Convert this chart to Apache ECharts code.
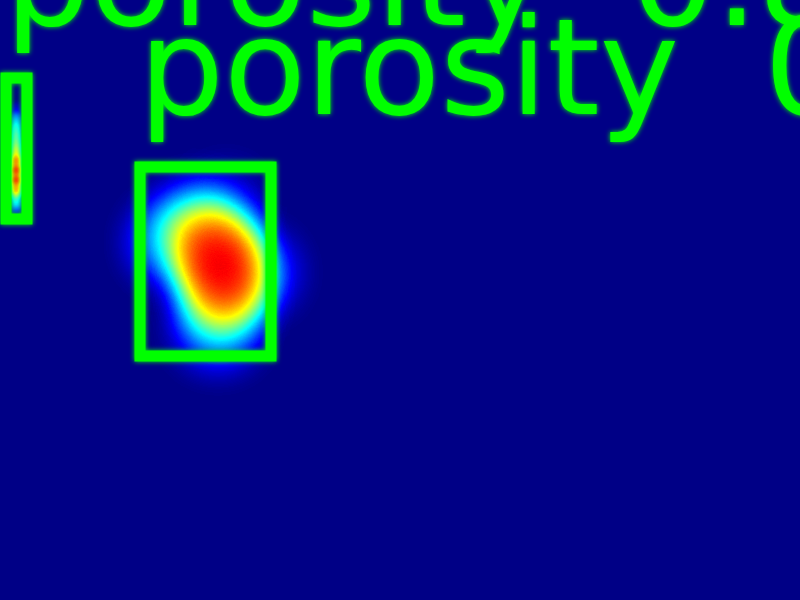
<!DOCTYPE html>
<html>
<head>
<meta charset="utf-8">
<script src="https://cdn.jsdelivr.net/npm/echarts@6/dist/echarts.min.js"></script>
<style>html,body{margin:0;padding:0;background:#000086;}#main{width:800px;height:600px;}</style>
</head>
<body>
<div id="main"></div>
<script>
// Image-space frame (pixels of the original detection image crop)
const frameWidth = 800;
const frameHeight = 600;

// Detection boxes: left, top, right, bottom (image coords)
const boxLeft = [6, 140];
const boxTop = [78, 167];
const boxRight = [27, 271];
const boxBottom = [219, 356];
const boxLabels = ['porosity', 'porosity'];
const boxScores = ['0.89', '0.93'];

// Heat points for the large defect: x, y, intensity
const heatX = [213, 219, 223, 224, 222, 172, 194, 256, 218, 226];
const heatY = [236, 252, 268, 284, 298, 242, 218, 272, 328, 200];
const heatV = [0.40, 0.44, 0.44, 0.40, 0.34, 0.30, 0.18, 0.22, 0.26, 0.06];

// Heat points for the thin defect in the left box
const thinX = [16, 16, 16, 16, 16, 16, 16, 16, 16, 16, 16];
const thinY = [110, 120, 130, 140, 150, 160, 170, 180, 190, 200, 208];
const thinV = [0.10, 0.30, 0.40, 0.45, 0.55, 0.75, 0.85, 0.85, 0.70, 0.35, 0.20];

// Jet colour ramp
const jetColors = ['#000086', '#0000ff', '#0080ff', '#00ffff', '#80ff80', '#ffff00', '#ff8000', '#ff0000', '#800000'];

const frameGeo = {
  type: 'FeatureCollection',
  features: [{
    type: 'Feature',
    properties: { name: 'frame' },
    geometry: { type: 'Polygon', coordinates: [[[0, 0], [frameWidth, 0], [frameWidth, frameHeight], [0, frameHeight], [0, 0]]] }
  }]
};
echarts.registerMap('frame', frameGeo);

const chart = echarts.init(document.getElementById('main'));
const heatData = heatX.map((x, i) => [x, heatY[i], heatV[i]]);
const thinData = thinX.map((x, i) => [x, thinY[i], thinV[i]]);
const boxData = boxLeft.map((x, i) => [x, boxTop[i], boxRight[i], boxBottom[i]]);

chart.setOption({
  backgroundColor: '#000086',
  animation: false,
  geo: {
    map: 'frame',
    left: 0, top: 0, right: 0, bottom: 0,
    roam: false,
    silent: true,
    selectedMode: false,
    projection: { project: p => [p[0], p[1]], unproject: p => [p[0], p[1]] },
    label: { show: false },
    itemStyle: { areaColor: '#000086', borderWidth: 0, borderColor: '#000086' },
    emphasis: { disabled: true },
    select: { disabled: true }
  },
  visualMap: {
    show: false,
    type: 'continuous',
    min: 0,
    max: 1,
    seriesIndex: [0, 1],
    inRange: { color: jetColors }
  },
  series: [
    {
      type: 'heatmap',
      coordinateSystem: 'geo',
      geoIndex: 0,
      pointSize: 40,
      blurSize: 34,
      minOpacity: 1,
      maxOpacity: 1,
      data: heatData
    },
    {
      type: 'heatmap',
      coordinateSystem: 'geo',
      geoIndex: 0,
      pointSize: 7,
      blurSize: 6,
      minOpacity: 1,
      maxOpacity: 1,
      data: thinData
    },
    {
      type: 'custom',
      coordinateSystem: 'geo',
      geoIndex: 0,
      z: 5,
      silent: true,
      data: boxData,
      renderItem: function (params, api) {
        const p0 = api.coord([api.value(0), api.value(1)]);
        const p1 = api.coord([api.value(2), api.value(3)]);
        const i = params.dataIndex;
        return {
          type: 'group',
          children: [
            {
              type: 'rect',
              shape: { x: p0[0], y: p0[1], width: p1[0] - p0[0], height: p1[1] - p0[1] },
              style: { fill: 'none', stroke: '#00ff00', lineWidth: 11, shadowBlur: 5, shadowColor: '#00ff00' }
            },
            {
              type: 'text',
              x: p0[0] - 1,
              y: p0[1] - 88,
              style: {
                text: boxLabels[i] + '  ' + boxScores[i],
                font: '134px "DejaVu Sans"',
                fill: '#00ff00',
                verticalAlign: 'middle',
                align: 'left',
                textShadowBlur: 5,
                textShadowColor: '#00ff00'
              }
            }
          ]
        };
      }
    }
  ]
});
</script>
</body>
</html>
